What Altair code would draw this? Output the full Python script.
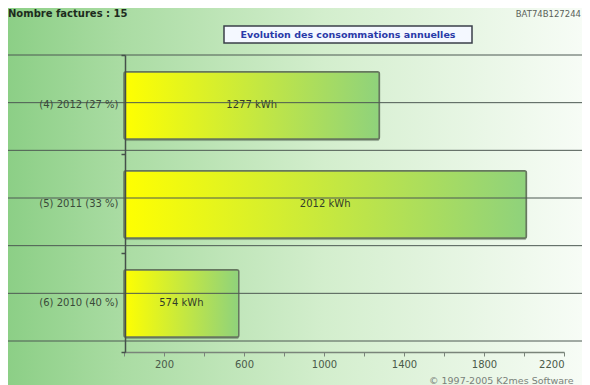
import altair as alt
import pandas as pd

# ---- data ----
categories = ["(4) 2012 (27 %)", "(5) 2011 (33 %)", "(6) 2010 (40 %)"]
consumption_kwh = [1277, 2012, 574]
bar_labels = ["1277 kWh", "2012 kWh", "574 kWh"]
x_tick_values = [0, 200, 400, 600, 800, 1000, 1200, 1400, 1600, 1800, 2000, 2200]
grid_levels = [0, 1, 2, 3, 4, 5, 6]

header_left = "Nombre factures : 15"
header_right = "BAT74B127244"
chart_title = "Evolution des consommations annuelles"
copyright_text = "© 1997-2005 K2mes Software"

W, H = 574, 377
FONT = "DejaVu Sans"

df = pd.DataFrame({"cat": categories, "value": consumption_kwh, "txt": bar_labels})
df_grid = pd.DataFrame({"g": grid_levels})
df_one = pd.DataFrame({"k": [0]})

bg_gradient = alt.Gradient(
    gradient="linear",
    stops=[
        alt.GradientStop(color="#8ccf86", offset=0),
        alt.GradientStop(color="#aadca3", offset=0.2),
        alt.GradientStop(color="#d3eecd", offset=0.55),
        alt.GradientStop(color="#f7fcf6", offset=1),
    ],
    x1=0, x2=1, y1=0, y2=0,
)
bar_gradient = alt.Gradient(
    gradient="linear",
    stops=[
        alt.GradientStop(color="#ffff00", offset=0),
        alt.GradientStop(color="#8fd27c", offset=1),
    ],
    x1=0, x2=1, y1=0, y2=0,
)

background = alt.Chart(df_one).mark_rect(fill=bg_gradient, stroke=None).encode(
    x=alt.value(0), x2=alt.value(W), y=alt.value(0), y2=alt.value(H)
)

y_enc = alt.Y(
    "cat:N",
    sort=categories,
    scale=alt.Scale(range=[47, 344], paddingInner=0, paddingOuter=0),
    axis=alt.Axis(
        title=None,
        orient="left",
        offset=-117,
        zindex=2,
        tickBand="extent",
        tickSize=4,
        labelPadding=3,
        labelFont=FONT,
        labelFontSize=10,
        labelFontWeight="normal",
        labelColor="#3a4a3a",
        domainColor="#45504a",
        domainWidth=1.5,
        tickColor="#45504a",
        tickWidth=1.5,
        grid=False,
    ),
)
x_scale = alt.Scale(domain=[0, 2200], range=[116, 556], nice=False)
x_axis = alt.Axis(
    title=None,
    values=x_tick_values,
    format="d",
    labelExpr="datum.value % 400 == 200 ? datum.label : ''",
    offset=-(H - 344),
    zindex=2,
    tickSize=4,
    labelPadding=3,
    labelFont=FONT,
    labelFontSize=10,
    labelFontWeight="normal",
    labelColor="#4a5a4a",
    domainColor="#7a847a",
    domainWidth=1.5,
    tickColor="#7a847a",
    grid=False,
)

BAR_BAND = alt.RelativeBandSize(band=0.68)

shadow = alt.Chart(df).mark_bar(
    fill="#4f5f4f", opacity=0.45, xOffset=2, yOffset=3, cornerRadius=2, height=BAR_BAND
).encode(
    x=alt.X("value:Q", scale=x_scale, axis=x_axis),
    y=y_enc,
)

bars = alt.Chart(df).mark_bar(
    fill=bar_gradient, stroke="#66775f", strokeWidth=1.5, cornerRadius=2, height=BAR_BAND,
    yOffset=1,
).encode(
    x=alt.X("value:Q", scale=x_scale, axis=x_axis),
    y=y_enc,
)

bar_text = alt.Chart(df).transform_calculate(half="datum.value / 2").mark_text(
    font=FONT, fontSize=10, color="#333d2a", baseline="middle", align="center"
).encode(
    x=alt.X("half:Q", scale=x_scale, axis=x_axis),
    y=y_enc,
    text="txt:N",
)

main = alt.layer(shadow, bars, bar_text)

grid = alt.Chart(df_grid).mark_rule(color="#4d5852", strokeWidth=1).encode(
    y=alt.Y("g:Q", scale=alt.Scale(domain=[0, 6], range=[47, 333], nice=False, zero=False), axis=None)
)

head_left = alt.Chart(df_one).mark_text(
    text=header_left, font=FONT, fontSize=10, fontWeight="bold", color="#1d2b1d",
    align="left", baseline="middle",
).encode(x=alt.value(0), y=alt.value(6))

head_right = alt.Chart(df_one).mark_text(
    text=header_right, font=FONT, fontSize=8.5, color="#5a5f5a",
    align="right", baseline="middle",
).encode(x=alt.value(W - 1), y=alt.value(6))

title_box = alt.Chart(df_one).mark_rect(
    fill="#f4f8ff", stroke="#3a3f4a", strokeWidth=1.5
).encode(x=alt.value(216), x2=alt.value(464), y=alt.value(18), y2=alt.value(35))

title_text = alt.Chart(df_one).mark_text(
    text=chart_title, font=FONT, fontSize=9.5, fontWeight="bold", color="#2a3aa8",
    align="center", baseline="middle",
).encode(x=alt.value(340), y=alt.value(26.5))

copyright = alt.Chart(df_one).mark_text(
    text=copyright_text, font=FONT, fontSize=9.5, color="#7a827a",
    align="left", baseline="bottom",
).encode(x=alt.value(421), y=alt.value(H + 1))

chart = (
    alt.layer(
        background, main, grid,
        head_left, head_right, title_box, title_text, copyright,
    )
    .resolve_scale(y="independent")
    .properties(
        width=W, height=H,
        autosize=alt.AutoSizeParams(type="none"),
        padding=0,
        background="#ffffff",
    )
    .configure_view(stroke=None)
)

chart.save("out.html", embed_options={"renderer": "svg", "actions": False})
